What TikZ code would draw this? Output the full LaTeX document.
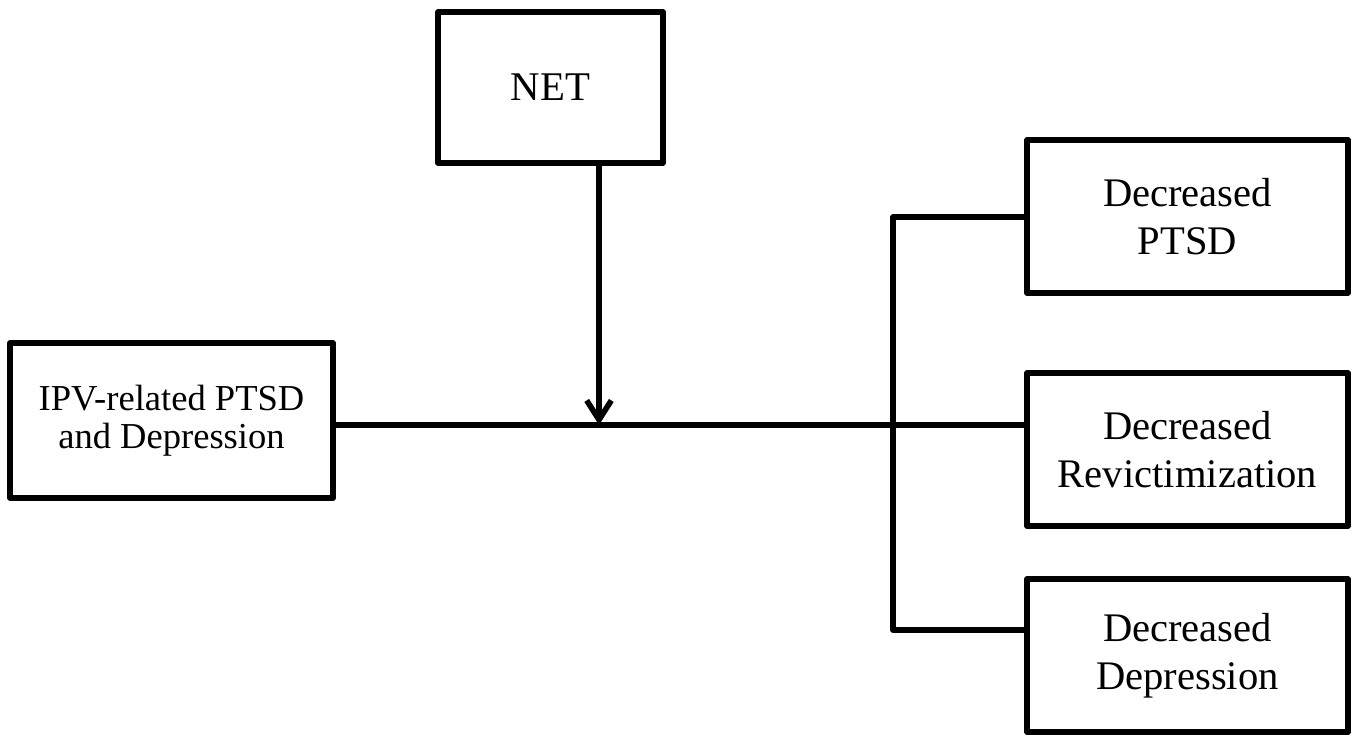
\documentclass[tikz,border=0pt]{standalone}
\usepackage{fontspec}
\setmainfont{Liberation Serif}
\usetikzlibrary{arrows.meta}

\begin{document}
\begin{tikzpicture}[
    x=0.02cm, y=-0.02cm,
    line width=3.2pt, line join=round,
    every node/.style={draw, line width=3.2pt, align=center, text centered},
    factor/.style={minimum width=4.5cm, minimum height=3.02cm, font=\fontsize{23.2}{27}\selectfont},
    source/.style={minimum width=6.46cm, minimum height=3.1cm, font=\fontsize{20.8}{21.5}\selectfont},
    outcome/.style={minimum width=6.42cm, minimum height=3.06cm, font=\fontsize{23.1}{27.3}\selectfont},
    arrow/.style={-{Straight Barb[length=11pt,width=14pt,line width=3.2pt]}}
]
\useasboundingbox (0,0) rectangle (1359,737);

% Intervention and starting condition
\node[factor] (net) at (550.5,87.5) {NET};
\node[source] (ipv) at (171.5,420.5) {IPV-related PTSD\\and Depression};

% Outcomes
\node[outcome] (ptsd) at (1187.5,216.5) {Decreased\\PTSD};
\node[outcome] (revict) at (1187.5,449.5) {Decreased\\Revictimization};
\node[outcome] (depress) at (1187.5,655.5) {Decreased\\Depression};

% Junction points
\coordinate (effect) at (599,425);
\coordinate (split) at (893,425);
\coordinate (splittop) at (893,217);
\coordinate (splitbot) at (893,630);

% Connections
\draw (ipv.east |- effect) -- (revict.west |- split);
\draw[arrow] (net.south -| effect) -- (effect);
\draw (ptsd.west |- splittop) -- (splittop) -- (splitbot) -- (depress.west |- splitbot);

\end{tikzpicture}
\end{document}
